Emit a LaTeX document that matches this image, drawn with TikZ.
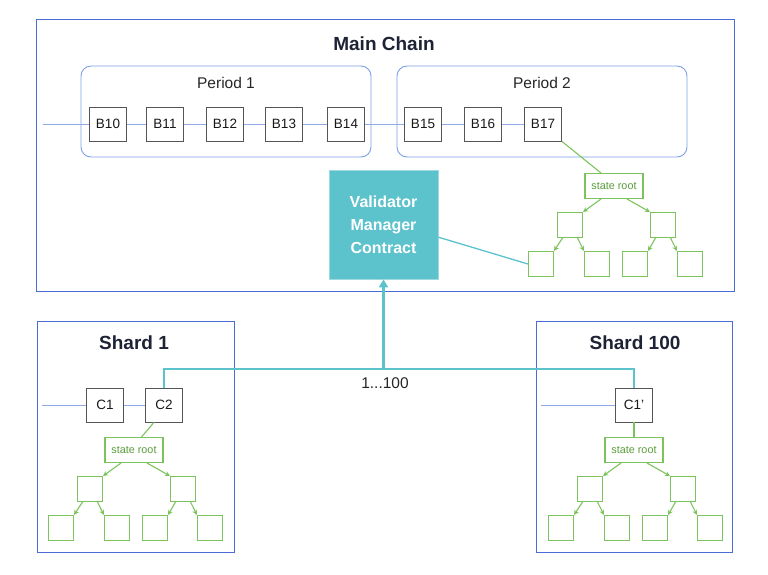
\documentclass[tikz,border=0pt]{standalone}
\usepackage{fontspec}
\setmainfont{Liberation Sans}
\usetikzlibrary{arrows.meta}
\definecolor{frameblue}{HTML}{4A6CD4}
\definecolor{periodblue}{HTML}{7C9FE6}
\definecolor{linkblue}{HTML}{8FA8E8}
\definecolor{blockgray}{HTML}{555555}
\definecolor{treegreen}{HTML}{7CC35E}
\definecolor{textgreen}{HTML}{5A9E3C}
\definecolor{vmcteal}{HTML}{5CC2CC}
\definecolor{titlenavy}{HTML}{1E2235}
\newcommand{\fsz}[1]{\fontsize{#1}{#1}\selectfont}
\newcommand{\statetree}[3]{%
  \begin{scope}[shift={(#2,#3)}]
    \node[srootbox] (#1r) at (0,0) {state root};
    \node[leafbox] (#1a) at (-44,39) {};
    \node[leafbox] (#1b) at (49,39) {};
    \node[leafbox] (#1c) at (-73,78) {};
    \node[leafbox] (#1d) at (-17,78) {};
    \node[leafbox] (#1e) at (21,78) {};
    \node[leafbox] (#1f) at (76,78) {};
  \end{scope}
  \draw[treearrow] (#1r.-135) -- (#1a.north east);
  \draw[treearrow] (#1r.-45) -- (#1b.north west);
  \draw[treearrow] (#1a.-120) -- (#1c.north east);
  \draw[treearrow] (#1a.-60) -- (#1d.north west);
  \draw[treearrow] (#1b.-120) -- (#1e.north east);
  \draw[treearrow] (#1b.-60) -- (#1f.north west);
}
\begin{document}
\begin{tikzpicture}[x=1pt,y=-1pt,
  framebox/.style={draw=frameblue,line width=0.9pt,minimum width=#1,inner sep=0pt},
  periodbox/.style={draw=periodblue,line width=0.9pt,rounded corners=10pt,minimum width=290pt,minimum height=91pt,inner sep=0pt},
  titletext/.style={font=\fsz{19}\bfseries,text=titlenavy,inner sep=0pt},
  periodtext/.style={font=\fsz{15.5},text=black!85,inner sep=0pt},
  blockbox/.style={draw=blockgray,line width=0.8pt,fill=white,minimum width=37pt,minimum height=34pt,inner sep=0pt,font=\fsz{13.5},text=black!90},
  link/.style={draw=linkblue,line width=0.8pt},
  srootbox/.style={draw=treegreen,line width=1.1pt,fill=white,minimum width=58pt,minimum height=25pt,inner sep=0pt,font=\fsz{10.8},text=textgreen},
  leafbox/.style={draw=treegreen,line width=1.1pt,fill=white,minimum width=25pt,minimum height=25pt,inner sep=0pt},
  treearrow/.style={draw=treegreen,line width=1.1pt,-{Stealth[length=5pt,width=5pt]}},
  treeline/.style={draw=treegreen,line width=1.1pt},
  tealline/.style={draw=vmcteal,line width=2.2pt},
  vmcbox/.style={fill=vmcteal,draw=vmcteal!60,line width=0.8pt,minimum width=109pt,minimum height=109pt,inner sep=0pt,text=white,font=\fsz{16}\bfseries,align=center}
]
\useasboundingbox (0,0) rectangle (768,574);

% Main chain
\node[framebox=698pt,minimum height=272pt] (mainbox) at (385,155) {};
\node[titletext] (maintitle) at (384,44) {Main Chain};
\node[periodbox] (p1) at (226,111.5) {};
\node[periodbox] (p2) at (542,111.5) {};
\node[periodtext] (p1t) at (226,83) {Period 1};
\node[periodtext] (p2t) at (542,83) {Period 2};

\node[blockbox] (b10) at (108,124) {B10};
\node[blockbox] (b11) at (165,124) {B11};
\node[blockbox] (b12) at (225,124) {B12};
\node[blockbox] (b13) at (284,124) {B13};
\node[blockbox] (b14) at (346,124) {B14};
\node[blockbox] (b15) at (423,124) {B15};
\node[blockbox] (b16) at (483,124) {B16};
\node[blockbox] (b17) at (543,124) {B17};
\coordinate (min) at (43,124);
\draw[link] (min) -- (b10.west);
\draw[link] (b10) -- (b11);
\draw[link] (b11) -- (b12);
\draw[link] (b12) -- (b13);
\draw[link] (b13) -- (b14);
\draw[link] (b14) -- (b15);
\draw[link] (b15) -- (b16);
\draw[link] (b16) -- (b17);

\node[vmcbox] (vmc) at (383.5,224.5) {Validator\\[7pt]Manager\\[7pt]Contract};

\statetree{m}{614}{186}
\draw[treeline] (b17.south east) -- (mr.135);
\draw[draw=vmcteal,line width=1.3pt] (vmc.-13) -- (mc.west);

% Shard 1
\node[framebox=197pt,minimum height=231pt] (s1box) at (135.5,436.5) {};
\node[titletext] (s1title) at (134,343) {Shard 1};
\node[blockbox] (c1) at (105,405) {C1};
\node[blockbox] (c2) at (164,405) {C2};
\coordinate (s1in) at (42,405);
\draw[link] (s1in) -- (c1.west);
\draw[link] (c1) -- (c2);
\statetree{s}{134}{450}
\draw[treeline] (c2.-120) -- (sr.60);

% Shard 100
\node[framebox=196pt,minimum height=231pt] (s2box) at (634,436.5) {};
\node[titletext] (s2title) at (635,343) {Shard 100};
\node[blockbox] (c1p) at (634,405) {C1'};
\coordinate (s2in) at (541,405);
\draw[link] (s2in) -- (c1p.west);
\statetree{t}{634}{450}
\draw[treeline] (c1p.south) -- (tr.north);

% teal connector
\coordinate (junc) at (383.5,369);
\draw[tealline] (c2.north) |- (junc) -| (c1p.north);
\draw[tealline,-{Triangle[length=8pt,width=9pt]}] (junc) -- (vmc.south);
\node[periodtext] (range) at (385,383) {1...100};
\end{tikzpicture}
\end{document}
